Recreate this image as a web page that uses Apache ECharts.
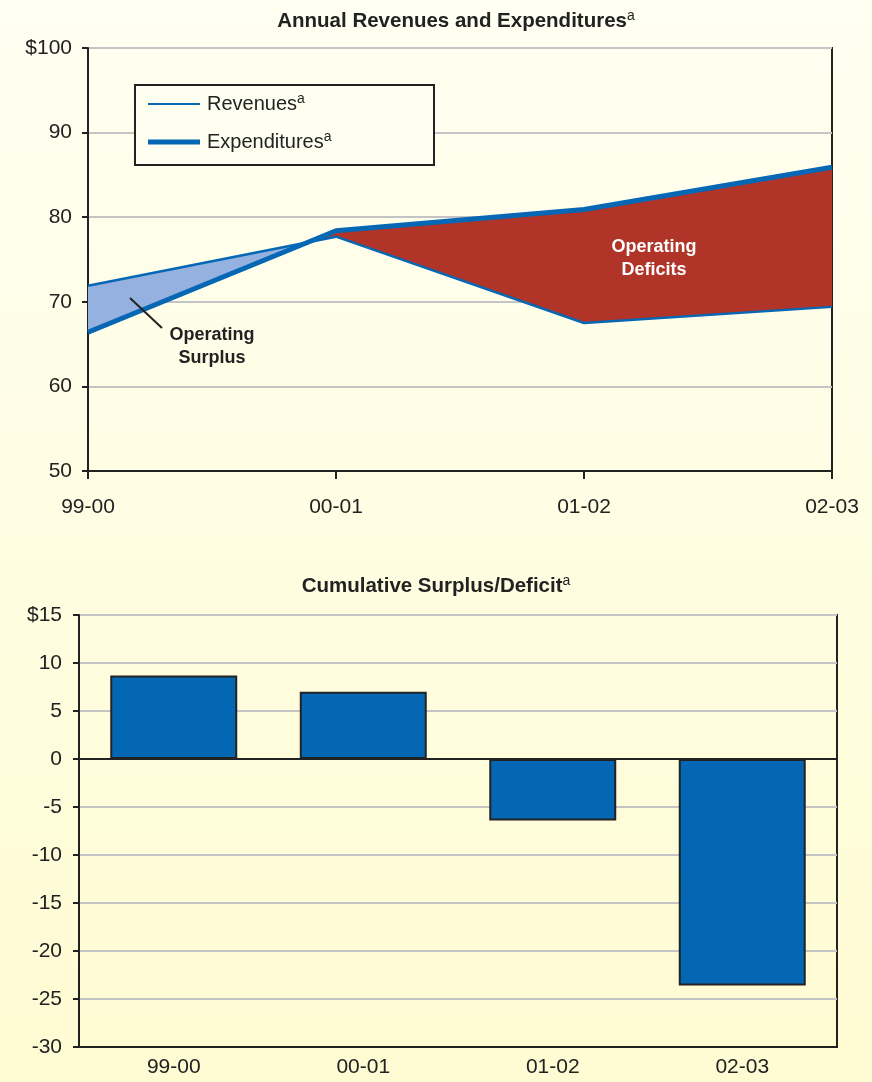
<!DOCTYPE html>
<html>
<head>
<meta charset="utf-8">
<title>Annual Revenues and Expenditures</title>
<script src="https://cdn.jsdelivr.net/npm/echarts@6/dist/echarts.min.js"></script>
<style>
  html, body { margin: 0; padding: 0; }
  #chart { width: 872px; height: 1082px; }
</style>
</head>
<body>
<div id="chart"></div>
<script>
// Fiscal years shown on both panels
const periods = ['99-00', '00-01', '01-02', '02-03'];
// Annual revenues and expenditures (billions of dollars)
const revenues = [71.9, 77.7, 67.5, 69.4];
const expenditures = [66.4, 78.4, 80.9, 85.9];
// Cumulative surplus / deficit (billions of dollars)
const cumulative = [8.7, 7.0, -6.4, -23.6];

const FONT = "'Liberation Sans', Arial, Helvetica, sans-serif";
const INK = '#222222';
const BLUE = '#0667B5';

// Split the band between two series into runs of constant sign,
// inserting the exact crossing point where the lines intersect.
function splitBands(a, b) {
  const regions = [];
  let cur = null;
  function push(sign, x, ya, yb) {
    if (!cur || cur.sign !== sign) {
      cur = { sign: sign, top: [], bottom: [] };
      regions.push(cur);
    }
    cur.top.push([x, ya]);
    cur.bottom.push([x, yb]);
  }
  for (let i = 0; i < a.length; i++) {
    const d = a[i] - b[i];
    const sign = d >= 0 ? 1 : -1;
    push(sign, i, a[i], b[i]);
    if (i < a.length - 1) {
      const d2 = a[i + 1] - b[i + 1];
      if (d * d2 < 0) {
        const t = d / (d - d2);
        const y = a[i] + t * (a[i + 1] - a[i]);
        push(sign, i + t, y, y);
        push(-sign, i + t, y, y);
      }
    }
  }
  return regions;
}

const bands = splitBands(revenues, expenditures);

const chart = echarts.init(document.getElementById('chart'));

const supRich = {
  sup: { fontSize: 14, fontFamily: FONT, color: INK, lineHeight: 24, padding: [0, 0, 9, 0] }
};
const supRichBold = {
  sup: { fontSize: 14, fontWeight: 'normal', fontFamily: FONT, color: INK, padding: [0, 0, 11, 0] }
};

chart.setOption({
  backgroundColor: {
    type: 'linear', x: 0, y: 0, x2: 0, y2: 1,
    colorStops: [
      { offset: 0, color: '#FFFFF2' },
      { offset: 1, color: '#FFFBD2' }
    ]
  },
  animation: false,
  textStyle: { fontFamily: FONT },
  title: [
    {
      text: 'Annual Revenues and Expenditures{sup|a}',
      left: 451, top: 4, textAlign: 'center',
      textStyle: { fontSize: 20.5, fontWeight: 'bold', color: INK, fontFamily: FONT, rich: supRichBold }
    },
    {
      text: 'Cumulative Surplus/Deficit{sup|a}',
      left: 431, top: 569, textAlign: 'center',
      textStyle: { fontSize: 20.5, fontWeight: 'bold', color: INK, fontFamily: FONT, rich: supRichBold }
    }
  ],
  legend: {
    left: 148, top: 92,
    orient: 'vertical',
    padding: 0,
    itemGap: 14,
    itemWidth: 52,
    itemHeight: 14,
    z: 8,
    data: [
      { name: 'Revenues', icon: 'path://M0,0H52V2H0Z' },
      { name: 'Expenditures', icon: 'path://M0,0H52V5H0Z' }
    ],
    formatter: function (name) { return name + '{sup|a}'; },
    textStyle: { fontSize: 20, lineHeight: 24, color: INK, fontFamily: FONT, padding: [0, 0, 0, 2], rich: supRich }
  },
  grid: [
    { left: 88, top: 48, width: 744, height: 423, show: true, borderColor: INK, borderWidth: 2, backgroundColor: 'transparent' },
    { left: 79, top: 615, width: 758, height: 432, show: true, borderColor: INK, borderWidth: 2, backgroundColor: 'transparent' }
  ],
  xAxis: [
    {
      gridIndex: 0, type: 'value', min: 0, max: 3, interval: 1,
      axisLine: { show: true, lineStyle: { color: INK, width: 2 } },
      axisTick: { show: true, length: 8, lineStyle: { color: INK, width: 2 } },
      axisLabel: { color: INK, fontSize: 21, margin: 26, formatter: function (v) { return periods[v]; } },
      splitLine: { show: false }
    },
    {
      gridIndex: 1, type: 'category', data: periods,
      axisLine: { show: true, onZero: false, lineStyle: { color: INK, width: 2 } },
      axisTick: { show: false },
      axisLabel: { color: INK, fontSize: 21, margin: 10 },
      splitLine: { show: false }
    }
  ],
  yAxis: [
    {
      gridIndex: 0, type: 'value', min: 50, max: 100, interval: 10,
      axisLine: { show: true, lineStyle: { color: INK, width: 2 } },
      axisTick: { show: true, length: 6, lineStyle: { color: INK, width: 2 } },
      axisLabel: { color: INK, fontSize: 21, margin: 16, formatter: function (v) { return v === 100 ? '$100' : String(v); } },
      splitLine: { show: true, lineStyle: { color: '#C4C4C4', width: 2 } }
    },
    {
      gridIndex: 1, type: 'value', min: -30, max: 15, interval: 5,
      axisLine: { show: true, lineStyle: { color: INK, width: 2 } },
      axisTick: { show: true, length: 6, lineStyle: { color: INK, width: 2 } },
      axisLabel: { color: INK, fontSize: 21, margin: 17, formatter: function (v) { return v === 15 ? '$15' : String(v); } },
      splitLine: { show: true, lineStyle: { color: '#C4C4C4', width: 2 } }
    }
  ],
  series: [
    {
      // Shaded surplus / deficit band between the two lines
      type: 'custom',
      name: 'band',
      xAxisIndex: 0, yAxisIndex: 0,
      data: [[0, 0]],
      silent: true,
      z: 1,
      renderItem: function (params, api) {
        const children = bands.map(function (r) {
          const pts = r.top.concat(r.bottom.slice().reverse()).map(function (p) { return api.coord(p); });
          return {
            type: 'polygon',
            shape: { points: pts },
            style: { fill: r.sign > 0 ? '#94B1E0' : '#B03428', stroke: null }
          };
        });
        return { type: 'group', children: children };
      }
    },
    {
      name: 'Revenues', type: 'line',
      xAxisIndex: 0, yAxisIndex: 0,
      data: revenues.map(function (v, i) { return [i, v]; }),
      symbol: 'none',
      lineStyle: { color: BLUE, width: 2.5 },
      itemStyle: { color: BLUE },
      z: 3
    },
    {
      name: 'Expenditures', type: 'line',
      xAxisIndex: 0, yAxisIndex: 0,
      data: expenditures.map(function (v, i) { return [i, v]; }),
      symbol: 'none',
      lineStyle: { color: BLUE, width: 5 },
      itemStyle: { color: BLUE },
      z: 4
    },
    {
      name: 'Cumulative', type: 'bar',
      xAxisIndex: 1, yAxisIndex: 1,
      data: cumulative,
      barWidth: '67%',
      itemStyle: { color: '#0367B4', borderColor: INK, borderWidth: 2 },
      markLine: {
        silent: true,
        symbol: 'none',
        label: { show: false },
        lineStyle: { color: INK, width: 2, type: 'solid' },
        data: [{ yAxis: 0 }]
      }
    }
  ],
  graphic: [
    {
      // legend frame
      type: 'rect', z: 6,
      shape: { x: 135, y: 85, width: 299, height: 80 },
      style: { fill: '#FFFFF1', stroke: INK, lineWidth: 2 }
    },
    {
      type: 'line', z: 10,
      shape: { x1: 130, y1: 298, x2: 162, y2: 328 },
      style: { stroke: INK, lineWidth: 2 }
    },
    {
      type: 'text', z: 10,
      x: 212, y: 347,
      style: {
        text: 'Operating\nSurplus', fill: INK, align: 'center', verticalAlign: 'middle',
        font: 'bold 18px ' + FONT, lineHeight: 23
      }
    },
    {
      type: 'text', z: 10,
      x: 654, y: 259,
      style: {
        text: 'Operating\nDeficits', fill: '#FFFFFF', align: 'center', verticalAlign: 'middle',
        font: 'bold 18px ' + FONT, lineHeight: 23
      }
    }
  ]
});
</script>
</body>
</html>
